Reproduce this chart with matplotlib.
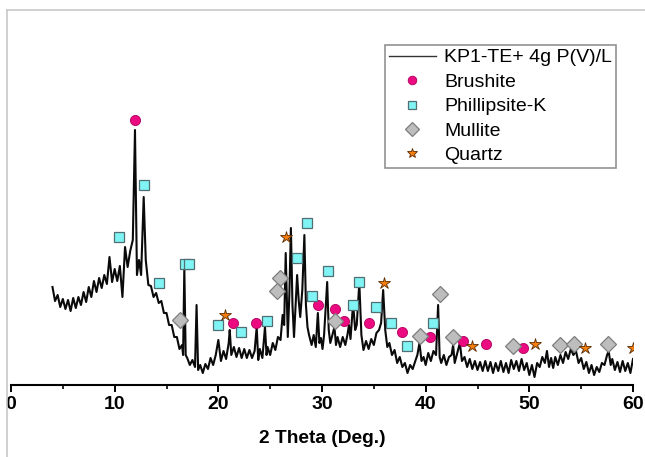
import matplotlib
matplotlib.use("Agg")
import matplotlib.pyplot as plt
from matplotlib.lines import Line2D
from matplotlib.ticker import MultipleLocator

plt.rcParams['font.family'] = ['Liberation Sans', 'DejaVu Sans']

# XRD trace (2-theta in degrees, intensity in a.u.)
two_theta = [
    4.00, 4.25, 4.50, 4.75, 5.00, 5.25, 5.50, 5.75, 6.00, 6.25, 6.50, 6.75,
    7.00, 7.25, 7.50, 7.75, 8.00, 8.25, 8.50, 8.75, 9.00, 9.25, 9.50, 9.75,
    10.00, 10.25, 10.50, 10.75, 11.00, 11.25, 11.50, 11.75, 11.96, 12.15, 12.35, 12.55,
    12.80, 13.00, 13.25, 13.50, 13.75, 14.00, 14.25, 14.50, 14.75, 15.00, 15.25, 15.50,
    15.75, 16.00, 16.25, 16.50, 16.60, 16.72, 16.85, 17.00, 17.25, 17.50, 17.75, 17.90,
    18.05, 18.25, 18.50, 18.75, 19.00, 19.25, 19.50, 19.75, 20.00, 20.25, 20.50, 20.75,
    21.00, 21.10, 21.25, 21.50, 21.75, 22.00, 22.25, 22.50, 22.75, 23.00, 23.25, 23.50,
    23.70, 23.85, 24.00, 24.25, 24.50, 24.65, 24.75, 25.00, 25.25, 25.50, 25.75, 26.00,
    26.20, 26.35, 26.50, 26.70, 26.85, 27.00, 27.15, 27.30, 27.45, 27.60, 27.75, 27.90,
    28.10, 28.30, 28.45, 28.60, 28.75, 29.00, 29.20, 29.40, 29.60, 29.75, 29.90, 30.05,
    30.20, 30.50, 30.65, 30.80, 31.00, 31.20, 31.35, 31.50, 31.75, 32.00, 32.25, 32.45,
    32.60, 32.75, 33.00, 33.20, 33.35, 33.60, 33.80, 34.00, 34.25, 34.50, 34.75, 35.00,
    35.25, 35.50, 35.70, 35.90, 36.10, 36.30, 36.50, 36.75, 37.00, 37.25, 37.50, 37.75,
    38.00, 38.25, 38.50, 38.75, 39.00, 39.20, 39.40, 39.60, 39.80, 40.00, 40.25, 40.50,
    40.75, 41.00, 41.20, 41.35, 41.50, 41.75, 42.00, 42.25, 42.50, 42.65, 42.80, 43.00,
    43.30, 43.50, 43.75, 44.00, 44.25, 44.50, 44.75, 45.00, 45.25, 45.50, 45.75, 46.00,
    46.25, 46.50, 46.75, 47.00, 47.25, 47.50, 47.75, 48.00, 48.25, 48.50, 48.75, 49.00,
    49.25, 49.50, 49.75, 50.00, 50.25, 50.50, 50.75, 51.00, 51.25, 51.50, 51.70, 51.90,
    52.10, 52.30, 52.50, 52.75, 53.00, 53.25, 53.50, 53.75, 54.00, 54.25, 54.50, 54.75,
    55.00, 55.25, 55.50, 55.75, 56.00, 56.25, 56.50, 56.75, 57.00, 57.25, 57.50, 57.65,
    57.85, 58.00, 58.25, 58.50, 58.75, 59.00, 59.25, 59.50, 59.75, 60.00,
]
intensity = [
    98, 84, 90, 78, 86, 76, 85, 74, 87, 77, 88, 80,
    93, 83, 98, 88, 104, 93, 107, 97, 110, 101, 128, 103,
    116, 104, 119, 88, 138, 118, 134, 145, 255, 110, 125, 110,
    188, 125, 100, 99, 88, 92, 82, 84, 72, 72, 60, 60,
    48, 48, 36, 40, 30, 117, 30, 27, 20, 25, 18, 80,
    15, 20, 12, 21, 16, 27, 20, 30, 45, 24, 34, 26,
    42, 55, 30, 38, 28, 37, 27, 36, 27, 35, 27, 34,
    58, 25, 36, 27, 58, 30, 38, 30, 42, 35, 48, 45,
    70, 60, 132, 48, 90, 157, 80, 48, 80, 110, 85, 68,
    95, 150, 80, 58, 50, 40, 50, 38, 72, 42, 47, 36,
    50, 103, 55, 42, 50, 58, 40, 48, 38, 48, 40, 50,
    60, 46, 82, 55, 60, 102, 50, 35, 44, 36, 46, 40,
    52, 55, 62, 95, 55, 38, 42, 30, 35, 22, 28, 18,
    22, 12, 20, 16, 24, 30, 42, 24, 28, 20, 32, 24,
    34, 30, 80, 28, 22, 30, 20, 28, 30, 40, 22, 30,
    42, 24, 28, 18, 26, 16, 24, 15, 23, 14, 24, 14,
    23, 12, 22, 14, 24, 13, 22, 12, 25, 16, 24, 14,
    26, 15, 22, 10, 20, 8, 22, 18, 28, 22, 34, 18,
    27, 17, 28, 20, 30, 22, 33, 26, 36, 30, 34, 22,
    27, 16, 23, 12, 20, 10, 18, 13, 22, 20, 30, 34,
    20, 26, 15, 23, 13, 24, 14, 22, 12, 26,
]

# Phase markers
brushite_x = [11.96, 21.41, 23.63, 29.60, 31.24, 32.11, 34.52, 37.70, 40.41, 43.59, 45.81, 49.37]
brushite_y = [265, 62, 62, 80, 76, 64, 62, 53, 48, 44, 41, 37]
phillipsite_x = [10.46, 12.83, 14.27, 16.78, 17.21, 19.96, 22.18, 24.69, 27.58, 28.54,
                 29.03, 30.57, 32.98, 33.56, 35.20, 36.64, 38.19, 40.69]
phillipsite_y = [148, 200, 102, 121, 121, 60, 53, 64, 127, 162, 89, 114, 80, 103, 78, 62, 39, 62]
mullite_x = [16.30, 25.94, 25.65, 31.24, 39.44, 41.37, 42.62, 48.41, 52.94, 54.29, 57.57]
mullite_y = [65, 107, 94, 64, 49, 91, 48, 39, 40, 41, 41]
quartz_x = [20.64, 26.52, 35.97, 44.50, 50.53, 55.35, 59.98]
quartz_y = [70, 148, 102, 39, 41, 37, 37]

series_label = "KP1-TE+ 4g P(V)/L"
x_ticks = [0, 10, 20, 30, 40, 50, 60]

W, H = 645, 457
fig = plt.figure(figsize=(W / 100, H / 100), dpi=100)
ax = fig.add_axes([11 / W, (H - 385) / H, (633 - 11) / W, (385 - 10) / H])

ax.plot(two_theta, intensity, color='#0a0a0a', lw=1.5, zorder=2)

bru = dict(ls='', marker='o', ms=7.3, mfc='#eb0a80', mec='#b0005e', mew=0.6)
phi = dict(ls='', marker='s', ms=6.8, mfc='#80f4f4', mec='#4f6f75', mew=0.9)
mul = dict(ls='', marker='D', ms=8.0, mfc='#bdbdbd', mec='#7d7d7d', mew=0.9)
qtz = dict(ls='', marker='*', ms=9.0, mfc='#f47d0c', mec='#5a2a00', mew=0.6)

ax.plot(brushite_x, brushite_y, zorder=3, **bru)
ax.plot(phillipsite_x, phillipsite_y, zorder=3, **phi)
ax.plot(mullite_x, mullite_y, zorder=3, **mul)
ax.plot(quartz_x, quartz_y, zorder=3, **qtz)

ax.set_xlim(0, 60)
ax.set_ylim(0, 375)
ax.set_xticks(x_ticks)
ax.xaxis.set_minor_locator(MultipleLocator(5))
ax.set_yticks([])
for s in ['left', 'right', 'top']:
    ax.spines[s].set_visible(False)
ax.spines['bottom'].set_linewidth(1.5)
ax.tick_params(axis='x', which='major', direction='out', length=5, width=1.4, pad=3)
ax.tick_params(axis='x', which='minor', direction='out', length=3, width=1.2)
for lab in ax.get_xticklabels():
    lab.set_fontweight('bold')
    lab.set_fontsize(14)
ax.set_xlabel('2 Theta (Deg.)', fontsize=13.8, fontweight='bold', labelpad=12)
ax.patch.set_alpha(0)

handles = [
    Line2D([], [], color='#333333', lw=1.0),
    Line2D([], [], **bru),
    Line2D([], [], **phi),
    Line2D([], [], **mul),
    Line2D([], [], **qtz),
]
labels = [series_label, 'Brushite', 'Phillipsite-K', 'Mullite', 'Quartz']
leg = fig.legend(handles, labels, loc='upper left', bbox_to_anchor=(385 / W, 1 - 45 / H),
                 bbox_transform=fig.transFigure, fontsize=14, frameon=True, fancybox=False,
                 edgecolor='#777777', borderaxespad=0, handlelength=2.4, handletextpad=0.45,
                 labelspacing=0.35, borderpad=0.2, markerscale=0.85)
leg.get_frame().set_linewidth(1.2)

# light grey picture frame (top and left edges)
fig.add_artist(Line2D([7 / W, 1], [1 - 10 / H, 1 - 10 / H], color='#c8c8c8', lw=1.2,
                      transform=fig.transFigure))
fig.add_artist(Line2D([7 / W, 7 / W], [0, 1 - 10 / H], color='#c8c8c8', lw=1.2,
                      transform=fig.transFigure))

fig.savefig('out.png', dpi=100)
